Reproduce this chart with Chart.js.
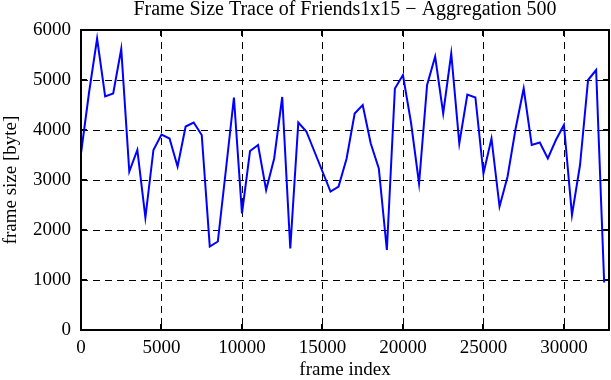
<!DOCTYPE html>
<html>
<head>
<meta charset="utf-8">
<script src="https://cdn.jsdelivr.net/npm/chart.js@4.4.0/dist/chart.umd.min.js"></script>
<style>
  html, body { margin: 0; padding: 0; background: #fff; }
  #wrap { width: 611px; height: 380px; }
</style>
</head>
<body>
<div id="wrap"><canvas id="chartCanvas" width="611" height="380"></canvas></div>
<script>
// ------- Data -------
const frameStep = 500;
const frameSizes = [
  3530, 4750, 5830, 4670, 4730, 5620, 3170, 3600, 2250, 3600,
  3910, 3830, 3270, 4070, 4150, 3900, 1670, 1770, 3200, 4650,
  2330, 3580, 3700, 2800, 3430, 4660, 1630, 4150, 3970, 3570,
  3170, 2770, 2870, 3430, 4330, 4500, 3730, 3230, 1600, 4830,
  5100, 4150, 2930, 4900, 5470, 4330, 5530, 3730, 4710, 4650,
  3130, 3830, 2470, 3070, 4030, 4830, 3700, 3750, 3430, 3800,
  4100, 2300, 3300, 5000, 5200, 950
];
const xTicks = [0, 5000, 10000, 15000, 20000, 25000, 30000];
const yTicks = [0, 1000, 2000, 3000, 4000, 5000, 6000];

const points = frameSizes.map((v, i) => ({ x: i * frameStep, y: v }));

const serif = "'Liberation Serif', 'DejaVu Serif', serif";

// ------- Plugins: dashed grid, inner tick marks, box -------
const gridPlugin = {
  id: "dashedGrid",
  beforeDatasetsDraw(chart) {
    const a = chart.chartArea;
    const c = chart.ctx;
    const xs = chart.scales.x, ys = chart.scales.y;
    c.save();
    c.strokeStyle = "#000";
    c.lineWidth = 1;
    c.setLineDash([7, 5]);
    xTicks.forEach((v) => {
      const px = Math.round(xs.getPixelForValue(v)) + 0.5;
      if (px <= a.left + 2 || px >= a.right - 2) return;
      c.beginPath(); c.moveTo(px, a.top); c.lineTo(px, a.bottom); c.stroke();
    });
    yTicks.forEach((v) => {
      const py = Math.round(ys.getPixelForValue(v)) + 0.5;
      if (py <= a.top + 2 || py >= a.bottom - 2) return;
      c.beginPath(); c.moveTo(a.left, py); c.lineTo(a.right, py); c.stroke();
    });
    // solid inward tick marks on all four sides
    c.setLineDash([]);
    c.lineWidth = 2;
    const t = 6;
    xTicks.forEach((v) => {
      const px = Math.round(xs.getPixelForValue(v));
      c.beginPath(); c.moveTo(px, a.bottom); c.lineTo(px, a.bottom - t); c.stroke();
      c.beginPath(); c.moveTo(px, a.top); c.lineTo(px, a.top + t); c.stroke();
    });
    yTicks.forEach((v) => {
      const py = Math.round(ys.getPixelForValue(v));
      c.beginPath(); c.moveTo(a.left, py); c.lineTo(a.left + t, py); c.stroke();
      c.beginPath(); c.moveTo(a.right, py); c.lineTo(a.right - t, py); c.stroke();
    });
    c.restore();
  },
  afterDraw(chart) {
    const a = chart.chartArea;
    const c = chart.ctx;
    c.save();
    c.strokeStyle = "#000";
    c.lineWidth = 2;
    c.strokeRect(a.left, a.top, a.right - a.left, a.bottom - a.top);
    c.restore();
  },
};

// ------- Chart -------
const ctx = document.getElementById("chartCanvas").getContext("2d");
new Chart(ctx, {
  type: "line",
  data: {
    datasets: [{
      data: points,
      borderColor: "#0000ff",
      borderWidth: 2,
      pointRadius: 0,
      tension: 0,
      fill: false,
    }],
  },
  plugins: [gridPlugin],
  options: {
    responsive: false,
    animation: false,
    layout: { padding: { left: 0, right: 2, top: 0, bottom: 0 } },
    plugins: {
      legend: { display: false },
      tooltip: { enabled: false },
      title: {
        display: true,
        fullSize: false,
        text: "Frame Size Trace of Friends1x15 \u2212 Aggregation 500",
        color: "#000",
        font: { family: serif, size: 20, weight: "normal", lineHeight: 1.0 },
        padding: { top: 0, bottom: 10 },
      },
    },
    scales: {
      x: {
        type: "linear",
        min: 0,
        max: 32800,
        afterBuildTicks(scale) { scale.ticks = xTicks.map((v) => ({ value: v })); },
        afterFit(scale) { scale.height = 50; },
        grid: { display: false, drawTicks: false },
        border: { display: false },
        ticks: {
          color: "#000",
          font: { family: serif, size: 19, lineHeight: 1.0 },
          padding: 9,
          maxRotation: 0,
          callback: (v) => v,
        },
        title: {
          display: true,
          text: "frame index",
          color: "#000",
          font: { family: serif, size: 19, lineHeight: 1.0 },
          padding: { top: 0, bottom: 0 },
        },
      },
      y: {
        min: 0,
        max: 6000,
        afterBuildTicks(scale) { scale.ticks = yTicks.map((v) => ({ value: v })); },
        afterFit(scale) { scale.width = 81; },
        grid: { display: false, drawTicks: false },
        border: { display: false },
        ticks: {
          color: "#000",
          font: { family: serif, size: 19, lineHeight: 1.0 },
          padding: 10,
          callback: (v) => v,
        },
        title: {
          display: true,
          text: "frame size [byte]",
          color: "#000",
          font: { family: serif, size: 19, lineHeight: 1.0 },
          padding: { top: 2, bottom: 0 },
        },
      },
    },
  },
});
</script>
</body>
</html>
